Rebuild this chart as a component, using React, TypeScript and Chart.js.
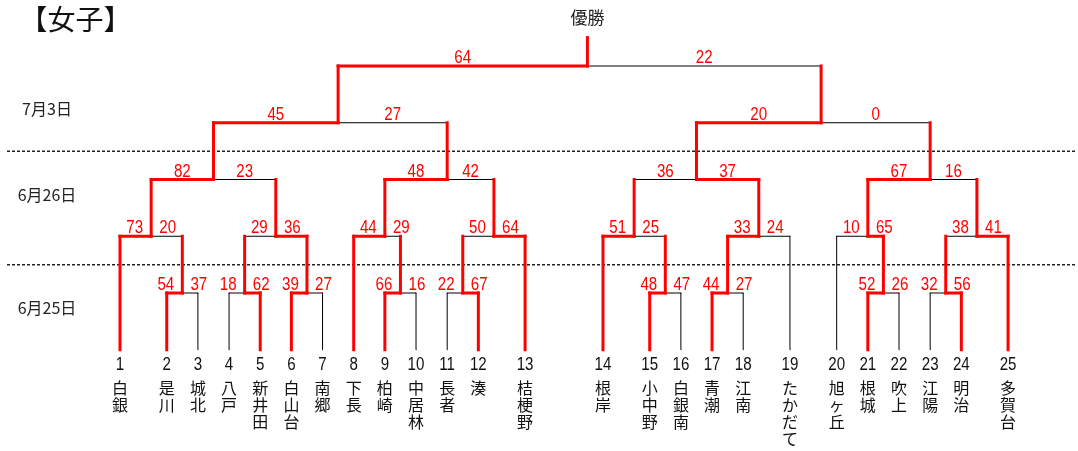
import React, { useEffect, useRef } from 'react';
import { Chart, registerables } from 'chart.js';

Chart.register(...registerables);

// ---- data ----
const teamNumbers = [1, 2, 3, 4, 5, 6, 7, 8, 9, 10, 11, 12, 13, 14, 15, 16, 17, 18, 19, 20, 21, 22, 23, 24, 25];
const teamNames = ['白銀', '是川', '城北', '八戸', '新井田', '白山台', '南郷', '下長', '柏崎', '中居林', '長者', '湊', '桔梗野', '根岸', '小中野', '白銀南', '青潮', '江南', 'たかだて', '旭ヶ丘', '根城', '吹上', '江陽', '明治', '多賀台'];
const teamSlots = [0, 1.5, 2.5, 3.5, 4.5, 5.5, 6.5, 7.5, 8.5, 9.5, 10.5, 11.5, 13, 15.5, 17, 18, 19, 20, 21.5, 23, 24, 25, 26, 27, 28.5];

const matchLeft = ['t2', 't1', 't4', 't6', 'm2', 'm1', 't9', 't8', 't11', 'm8', 'm7', 'm5', 't15', 't14', 't17', 'm14', 'm13', 't21', 't20', 't23', 'm19', 'm18', 'm16', 'm11'];
const matchRight = ['t3', 'm0', 't5', 't7', 'm3', 'm4', 't10', 'm6', 't12', 't13', 'm9', 'm10', 't16', 'm12', 't18', 't19', 'm15', 't22', 'm17', 't24', 't25', 'm20', 'm21', 'm22'];
const matchRound = [1, 2, 1, 1, 2, 3, 1, 2, 1, 2, 3, 4, 1, 2, 1, 2, 3, 1, 2, 1, 2, 3, 4, 5];
const matchSlot = [2, 1, 4, 6, 5, 3, 9, 8.5, 11, 12, 10.5, 7, 17.5, 16.5, 19.5, 20.5, 18.5, 24.5, 24, 26.5, 27.5, 26, 22.5, 15];
const leftScores = [54, 73, 18, 39, 29, 82, 66, 44, 22, 50, 48, 45, 48, 51, 44, 33, 36, 52, 10, 32, 38, 67, 20, 64];
const rightScores = [37, 20, 62, 27, 36, 23, 16, 29, 67, 64, 42, 27, 47, 25, 27, 24, 37, 26, 65, 56, 41, 16, 0, 22];

const championLevel = 5.5;
const dateLabels = ['7月3日', '6月26日', '6月25日'];
const dateLevels = [4.24, 2.73, 0.74];
const dividerLevels = [1.5, 3.5];
const title = '【女子】';
const championLabel = '優勝';

// ---- layout constants (styling) ----
const W = 1078;
const H = 451;
const PITCH = 31.16;
const LEFT_PX = 120;
const LEVEL_PX = 56.75;
const BASE_PX = 349.75;
const X_MIN = -LEFT_PX / PITCH;
const X_MAX = (W - LEFT_PX) / PITCH;
const Y_MAX = BASE_PX / LEVEL_PX;
const Y_MIN = (BASE_PX - H) / LEVEL_PX;

const RED = '#ff0000';
const BLACK = '#000000';
const NUM_FONT = '18px "Liberation Sans", Arial, sans-serif';
const NUM_SQUEEZE = 0.84;
const CJK = '"Noto Sans CJK JP", "Noto Sans CJK SC", sans-serif';

function childPos(ref: string): { x: number; y: number; isMatch: boolean } {
  const idx = parseInt(ref.slice(1), 10);
  if (ref[0] === 't') return { x: teamSlots[idx - 1], y: 0, isMatch: false };
  return { x: matchSlot[idx], y: matchRound[idx], isMatch: true };
}

function buildDatasets() {
  const segs: { pts: { x: number; y: number }[]; red: boolean }[] = [];
  for (let k = 0; k < matchLeft.length; k++) {
    const L = matchRound[k];
    const jx = matchSlot[k];
    const sides = [
      { ref: matchLeft[k], won: leftScores[k] > rightScores[k] },
      { ref: matchRight[k], won: rightScores[k] > leftScores[k] },
    ];
    for (const s of sides) {
      const c = childPos(s.ref);
      segs.push({ pts: [{ x: c.x, y: c.y }, { x: c.x, y: L }], red: c.isMatch || s.won });
      segs.push({ pts: [{ x: c.x, y: L }, { x: jx, y: L }], red: s.won });
    }
  }
  const f = matchLeft.length - 1;
  segs.push({ pts: [{ x: matchSlot[f], y: matchRound[f] }, { x: matchSlot[f], y: championLevel }], red: true });

  const ds: any[] = segs.map((s) => ({
    data: s.pts,
    showLine: true,
    borderColor: s.red ? RED : BLACK,
    borderWidth: s.red ? 3 : 1,
    borderCapStyle: 'square',
    pointRadius: 0,
    order: s.red ? 0 : 1,
    clip: false,
  }));
  for (const lv of dividerLevels) {
    ds.push({
      data: [{ x: X_MIN + 7 / PITCH, y: lv }, { x: X_MAX - 1 / PITCH, y: lv }],
      showLine: true,
      borderColor: '#222222',
      borderWidth: 1.5,
      borderDash: [3, 2],
      pointRadius: 0,
      order: 2,
      clip: false,
    });
  }
  return ds;
}

function squeezedText(ctx: CanvasRenderingContext2D, t: string, x: number, y: number) {
  ctx.save();
  ctx.translate(x, y);
  ctx.scale(NUM_SQUEEZE, 1);
  ctx.fillText(t, 0, 0);
  ctx.restore();
}

const textPlugin = {
  id: 'bracketText',
  afterDatasetsDraw(chart: any) {
    const { ctx, scales } = chart;
    const xs = scales.x;
    const ys = scales.y;
    ctx.save();
    // scores
    ctx.font = NUM_FONT;
    ctx.fillStyle = RED;
    ctx.textAlign = 'center';
    ctx.textBaseline = 'alphabetic';
    for (let k = 0; k < matchLeft.length; k++) {
      const jp = xs.getPixelForValue(matchSlot[k]);
      const yp = ys.getPixelForValue(matchRound[k]) - 3;
      const lp = xs.getPixelForValue(childPos(matchLeft[k]).x);
      const rp = xs.getPixelForValue(childPos(matchRight[k]).x);
      const lo = Math.max(Math.abs(jp - lp) / 2, 16.5);
      const ro = Math.max(Math.abs(rp - jp) / 2, 16.5);
      squeezedText(ctx, String(leftScores[k]), jp - lo, yp);
      squeezedText(ctx, String(rightScores[k]), jp + ro, yp);
    }
    // team numbers and names
    const baseY = ys.getPixelForValue(0);
    for (let i = 0; i < teamNumbers.length; i++) {
      const xp = xs.getPixelForValue(teamSlots[i]);
      ctx.font = NUM_FONT;
      ctx.fillStyle = '#111111';
      ctx.textBaseline = 'alphabetic';
      squeezedText(ctx, String(teamNumbers[i]), xp, baseY + 20.5);
      ctx.font = '16px ' + CJK;
      ctx.textBaseline = 'middle';
      const chars = Array.from(teamNames[i]);
      chars.forEach((ch, j) => {
        ctx.fillText(ch, xp, baseY + 38.5 + j * 17);
      });
    }
    // date labels
    ctx.font = '16px ' + CJK;
    ctx.fillStyle = '#222222';
    ctx.textBaseline = 'middle';
    dateLabels.forEach((t, i) => {
      ctx.fillText(t, 47, ys.getPixelForValue(dateLevels[i]));
    });
    // champion label
    const f = matchLeft.length - 1;
    ctx.font = '17px ' + CJK;
    ctx.fillText(championLabel, xs.getPixelForValue(matchSlot[f]), ys.getPixelForValue(championLevel) - 20);
    // title
    ctx.font = '28px ' + CJK;
    ctx.textAlign = 'left';
    ctx.fillStyle = '#111111';
    ctx.fillText(title, 19.5, 19);
    ctx.restore();
  },
};

export default function App() {
  const ref = useRef<HTMLCanvasElement | null>(null);
  useEffect(() => {
    if (!ref.current) return;
    const chart = new Chart(ref.current, {
      type: 'scatter',
      data: { datasets: buildDatasets() },
      options: {
        animation: false,
        responsive: true,
        maintainAspectRatio: false,
        events: [],
        layout: { padding: 0 },
        scales: {
          x: { type: 'linear', display: false, min: X_MIN, max: X_MAX },
          y: { type: 'linear', display: false, min: Y_MIN, max: Y_MAX },
        },
        plugins: { legend: { display: false }, tooltip: { enabled: false } },
      },
      plugins: [textPlugin],
    } as any);
    return () => chart.destroy();
  }, []);
  return (
    <div style={{ position: 'fixed', left: 0, top: 0, width: W, height: H, background: '#ffffff' }}>
      <canvas ref={ref} />
    </div>
  );
}
